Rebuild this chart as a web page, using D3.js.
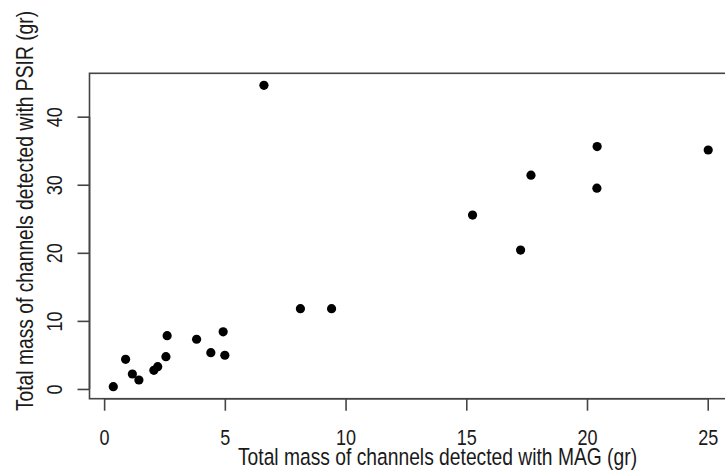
<!DOCTYPE html>
<html>
<head>
<meta charset="utf-8">
<script src="https://cdn.jsdelivr.net/npm/d3@7"></script>
<style>
    body { margin: 0; background: #fff; }
    svg text { font-family: "Liberation Sans", Arial, sans-serif; fill: #1a1a1a; }
</style>
</head>
<body>
<div id="chartDiv"></div>
<script>
'use strict';

// mass detected with MAG (gr), x
const massMAG = [0.38, 0.89, 1.17, 1.44, 2.06, 2.22, 2.56, 2.61, 3.83, 4.42, 4.93, 5.0,
    6.62, 8.13, 9.42, 15.26, 17.25, 17.68, 20.41, 20.42, 25.02];
// mass detected with PSIR (gr), y
const massPSIR = [0.34, 4.36, 2.2, 1.32, 2.74, 3.28, 4.74, 7.83, 7.3, 5.33, 8.4, 4.95,
    44.6, 11.8, 11.8, 25.55, 20.4, 31.4, 29.5, 35.6, 35.1];

const xTicks = [0, 5, 10, 15, 20, 25];
const yTicks = [0, 10, 20, 30, 40];

const xLabel = 'Total mass of channels detected with MAG (gr)';
const yLabel = 'Total mass of channels detected with PSIR (gr)';

const width = 725;
const height = 474;
const plotLeft = 89.5;
const plotRight = 732;
const plotTop = 73.3;
const plotBottom = 398.7;
const tickLength = 12;
const narrow = 'scale(0.82, 1)'; // the reference uses a narrow face, squeeze the text along its line

/*** R-style range: data extent padded by 4% on each side ***/
function paddedExtent(values) {
    let [lo, hi] = d3.extent(values);
    let pad = (hi - lo) * 0.04;
    return [lo - pad, hi + pad];
}

function main() {
    let svg = d3.select('#chartDiv')
        .append('svg')
        .attr('width', width)
        .attr('height', height);

    let x = d3.scaleLinear()
        .domain(paddedExtent(massMAG))
        .range([plotLeft, plotRight]);

    let y = d3.scaleLinear()
        .domain(paddedExtent(massPSIR))
        .range([plotBottom, plotTop]);

    // Points
    svg.append('g')
        .selectAll('circle')
        .data(massMAG.map((m, i) => ({ mag: m, psir: massPSIR[i] })))
        .enter()
        .append('circle')
        .attr('cx', d => x(d.mag))
        .attr('cy', d => y(d.psir))
        .attr('r', 4.6)
        .attr('fill', '#000');

    // Box around plot region
    svg.append('rect')
        .attr('x', plotLeft)
        .attr('y', plotTop)
        .attr('width', plotRight - plotLeft)
        .attr('height', plotBottom - plotTop)
        .attr('fill', 'none')
        .attr('stroke', '#444')
        .attr('stroke-width', 1.6);

    // x axis
    let xAxis = svg.append('g')
        .attr('transform', `translate(0, ${plotBottom})`)
        .call(d3.axisBottom(x).tickValues(xTicks).tickSize(tickLength).tickSizeOuter(0));
    xAxis.select('.domain')
        .attr('d', `M${x(xTicks[0])},0H${x(xTicks[xTicks.length - 1])}`);
    xAxis.selectAll('line, .domain').attr('stroke', '#444').attr('stroke-width', 1.6);
    xAxis.selectAll('text')
        .attr('y', null)
        .attr('dy', null)
        .attr('transform', `translate(0, 46.5) ${narrow}`)
        .style('font-size', '22px')
        .text(d => d);

    // y axis, labels turned like R's las = 0
    let yAxis = svg.append('g')
        .attr('transform', `translate(${plotLeft}, 0)`)
        .call(d3.axisLeft(y).tickValues(yTicks).tickSize(tickLength).tickSizeOuter(0));
    yAxis.select('.domain')
        .attr('d', `M0,${y(yTicks[0])}V${y(yTicks[yTicks.length - 1])}`);
    yAxis.selectAll('line, .domain').attr('stroke', '#444').attr('stroke-width', 1.6);
    yAxis.selectAll('text')
        .attr('x', null)
        .attr('dy', null)
        .attr('text-anchor', 'middle')
        .attr('transform', `translate(${61.7 - plotLeft}, 0) rotate(-90) ${narrow}`)
        .style('font-size', '22px')
        .text(d => d);

    // Axis titles
    svg.append('text')
        .attr('transform', `translate(437.5, 465) ${narrow}`)
        .attr('text-anchor', 'middle')
        .style('font-size', '23.5px')
        .text(xLabel);

    svg.append('text')
        .attr('transform', `translate(33, 211) rotate(-90) ${narrow}`)
        .attr('text-anchor', 'middle')
        .style('font-size', '23.5px')
        .text(yLabel);
}
main();
</script>
</body>
</html>
